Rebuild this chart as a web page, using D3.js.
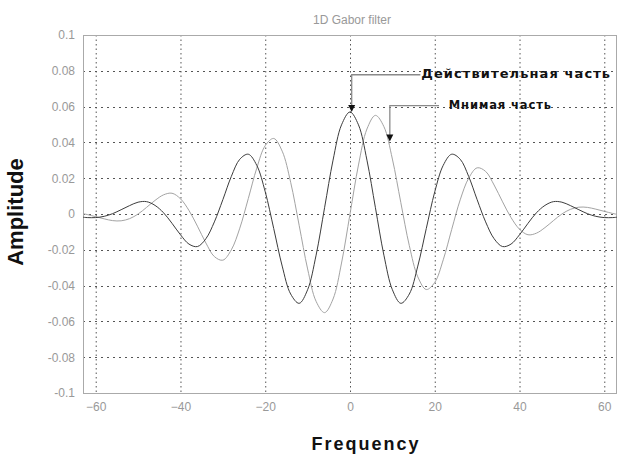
<!DOCTYPE html>
<html>
<head>
<meta charset="utf-8">
<script src="https://cdnjs.cloudflare.com/ajax/libs/d3/7.8.5/d3.min.js"></script>
<style>
  body { margin: 0; background: white; }
</style>
</head>
<body>
<div id="chart"></div>
<script>
//data
var freq = [-63, -62, -60, -58, -56, -54, -52, -50, -48, -46, -44, -42, -40, -38, -36, -34, -32, -30, -28, -26,
    -24, -22, -20, -18, -16, -14, -12, -10, -8, -6, -4, -2, 0, 2, 4, 6, 8, 10, 12, 14, 16, 18, 20, 22, 24, 26,
    28, 30, 32, 34, 36, 38, 40, 42, 44, 46, 48, 50, 52, 54, 56, 58, 60, 62, 63];

var realPart = [-0.0018, -0.0020, -0.0020, -0.0013, 0.0002, 0.0024, 0.0047, 0.0066, 0.0069, 0.0048,
    0.0007, -0.0052, -0.0116, -0.0168, -0.0182, -0.0138, -0.0044, 0.0080, 0.0210, 0.0306,
    0.0334, 0.0272, 0.0124, -0.0081, -0.0291, -0.0447, -0.0499, -0.0423, -0.0230, 0.0035,
    0.0301, 0.0498, 0.0570, 0.0498, 0.0301, 0.0035, -0.0230, -0.0423, -0.0499, -0.0447,
    -0.0291, -0.0081, 0.0124, 0.0272, 0.0334, 0.0306, 0.0210, 0.0080, -0.0044, -0.0138,
    -0.0182, -0.0168, -0.0116, -0.0052, 0.0007, 0.0048, 0.0069, 0.0066, 0.0047, 0.0024,
    0.0002, -0.0013, -0.0020, -0.0020, -0.0018];

var imagPart = [0.0002, -0.0003, -0.0015, -0.0027, -0.0037, -0.0038, -0.0026, 0.0000, 0.0037, 0.0076,
    0.0107, 0.0116, 0.0085, 0.0020, -0.0068, -0.0162, -0.0238, -0.0258, -0.0200, -0.0079,
    0.0086, 0.0256, 0.0382, 0.0422, 0.0351, 0.0177, -0.0063, -0.0307, -0.0488, -0.0551,
    -0.0475, -0.0274, 0.0000, 0.0274, 0.0475, 0.0551, 0.0488, 0.0307, 0.0063, -0.0177,
    -0.0351, -0.0422, -0.0382, -0.0256, -0.0086, 0.0079, 0.0200, 0.0258, 0.0238, 0.0162,
    0.0068, -0.0020, -0.0085, -0.0116, -0.0107, -0.0076, -0.0037, 0.0000, 0.0026, 0.0038,
    0.0037, 0.0027, 0.0015, 0.0003, -0.0002];

var xTicks = [-60, -40, -20, 0, 20, 40, 60];
var yTicks = [0.1, 0.08, 0.06, 0.04, 0.02, 0, -0.02, -0.04, -0.06, -0.08, -0.1];
var yTickLabels = ["0.1", "0.08", "0.06", "0.04", "0.02", "0", "-0.02", "-0.04", "-0.06", "-0.08", "-0.1"];

// arrow labels: x of the arrow, y of the bend, y of the tip, where the text starts
var notes = [
    { name: "Действительная часть", x: 0.4, yBend: 0.0778, yTip: 0.057, lineEnd: 16.6, textX: 16.1 },
    { name: "Мнимая часть", x: 9.4, yBend: 0.0606, yTip: 0.0405, lineEnd: 21, textX: 22.6 }
];
var noteFont = ["13px", "11.5px"],
    noteSpacing = ["1.1px", "0.9px"];
//

//general setup
var width = 617,
    height = 457,
    plotLeft = 83,
    plotRight = 617,
    plotTop = 35,
    plotBottom = 393;

var svg = d3.select("#chart").append("svg")
    .attr("width", width)
    .attr("height", height)
    .style("font-family", "'Liberation Sans', Arial, sans-serif");

var x = d3.scaleLinear().domain([-63, 63]).range([plotLeft, plotRight]);
var y = d3.scaleLinear().domain([-0.1, 0.1]).range([plotBottom, plotTop]);

//grid
var grid = svg.append("g");
grid.selectAll(".vgrid")
    .data(xTicks)
    .enter().append("line")
    .attr("x1", function(d) { return x(d) + 0.5; })
    .attr("x2", function(d) { return x(d) + 0.5; })
    .attr("y1", plotTop)
    .attr("y2", plotBottom)
    .style("stroke", "#555")
    .style("stroke-width", 1)
    .style("stroke-dasharray", "1.5,3");

grid.selectAll(".hgrid")
    .data(yTicks)
    .enter().append("line")
    .attr("x1", plotLeft)
    .attr("x2", plotRight)
    .attr("y1", function(d) { return Math.round(y(d)) + 0.5; })
    .attr("y2", function(d) { return Math.round(y(d)) + 0.5; })
    .style("stroke", "#555")
    .style("stroke-width", 1)
    .style("stroke-dasharray", "2,4");
//

//frame
svg.append("rect")
    .attr("x", plotLeft + 0.5)
    .attr("y", plotTop + 0.5)
    .attr("width", plotRight - plotLeft - 1)
    .attr("height", plotBottom - plotTop)
    .style("fill", "none")
    .style("stroke", "#aaa")
    .style("stroke-width", 1);

//axes
var xAxis = svg.append("g")
    .attr("transform", "translate(0," + (plotBottom + 4) + ")")
    .call(d3.axisBottom(x).tickValues(xTicks).tickSize(0).tickFormat(d3.format("d")));

var yAxis = svg.append("g")
    .attr("transform", "translate(" + (plotLeft - 5) + ",0)")
    .call(d3.axisLeft(y).tickValues(yTicks).tickSize(0)
        .tickFormat(function(d, i) { return yTickLabels[i]; }));

svg.selectAll(".domain").remove();
svg.selectAll(".tick text")
    .style("font-size", "12px")
    .style("font-family", "'Liberation Sans', Arial, sans-serif")
    .style("fill", "#999");
xAxis.selectAll(".tick text").attr("dy", "0.9em");
//

//curves
var line = d3.line()
    .x(function(d) { return x(d[0]); })
    .y(function(d) { return y(d[1]); })
    .curve(d3.curveCatmullRom);

svg.append("path")
    .datum(d3.zip(freq, imagPart))
    .attr("d", line)
    .style("fill", "none")
    .style("stroke", "#a3a3a3")
    .style("stroke-width", 1);

svg.append("path")
    .datum(d3.zip(freq, realPart))
    .attr("d", line)
    .style("fill", "none")
    .style("stroke", "#3c3c3c")
    .style("stroke-width", 1);
//

//arrows and labels
notes.forEach(function(n, i) {
    svg.append("path")
        .attr("d", "M" + x(n.lineEnd) + "," + y(n.yBend) + "H" + x(n.x) + "V" + (y(n.yTip) - 5))
        .style("fill", "none")
        .style("stroke", "#8a8a8a")
        .style("stroke-width", 1.3);
    svg.append("path")
        .attr("d", "M" + (x(n.x) - 3.5) + "," + (y(n.yTip) - 7) + "L" + (x(n.x) + 3.5) + "," + (y(n.yTip) - 7) +
            "L" + x(n.x) + "," + y(n.yTip) + "Z")
        .style("fill", "#111");
    svg.append("text")
        .attr("x", x(n.textX) + 3)
        .attr("y", y(n.yBend) + 3)
        .text(n.name)
        .style("font-family", "'DejaVu Sans', sans-serif")
        .style("font-size", noteFont[i])
        .style("font-weight", "bold")
        .style("letter-spacing", noteSpacing[i])
        .style("fill", "#111");
});
//

//titles
svg.append("text")
    .attr("x", 352)
    .attr("y", 24)
    .attr("text-anchor", "middle")
    .text("1D Gabor filter")
    .style("font-size", "12px")
    .style("fill", "#999");

svg.append("text")
    .attr("transform", "translate(23,212) rotate(-90)")
    .attr("text-anchor", "middle")
    .text("Amplitude")
    .style("font-size", "22px")
    .style("font-weight", "bold")
    .style("fill", "#111");

svg.append("text")
    .attr("x", 366)
    .attr("y", 450)
    .attr("text-anchor", "middle")
    .text("Frequency")
    .style("font-size", "18px")
    .style("font-weight", "bold")
    .style("letter-spacing", "2px")
    .style("fill", "#111");
</script>
</body>
</html>
